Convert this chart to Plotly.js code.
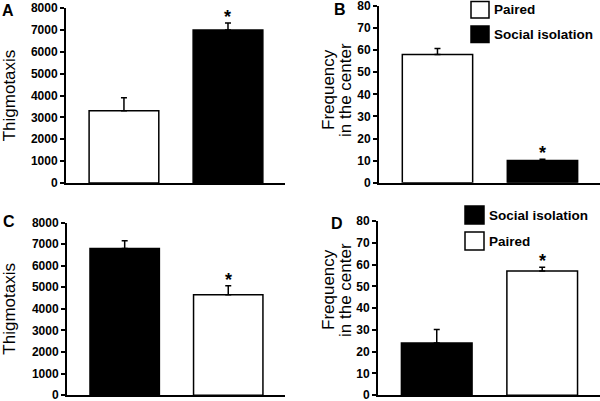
<!DOCTYPE html>
<html>
<head>
<meta charset="utf-8">
<script src="https://cdn.plot.ly/plotly-3.0.1.min.js"></script>
<style>html,body{margin:0;padding:0;background:#fff;}#chart{width:600px;height:401px;}</style>
</head>
<body>
<div id="chart"></div>
<script>
// ---- data ----
const groupsAB = ["Paired", "Social isolation"];
const groupsCD = ["Social isolation", "Paired"];
const thigmoA = [3300, 7000];
const thigmoAErr = [600, 320];
const freqB = [58, 10];
const freqBErr = [2.8, 0.6];
const thigmoC = [6800, 4650];
const thigmoCErr = [350, 420];
const freqD = [24, 57];
const freqDErr = [6.2, 1.8];
const sigA = ["", "*"];
const sigB = ["", "*"];
const sigC = ["", "*"];
const sigD = ["", "*"];
const thigmoTicks = [0, 1000, 2000, 3000, 4000, 5000, 6000, 7000, 8000];
const freqTicks = [0, 10, 20, 30, 40, 50, 60, 70, 80];
const thigmoTitle = "Thigmotaxis";
const freqTitle = ["Frequency", "in the center"];
const panelLabels = ["A", "B", "C", "D"];

// ---- styling ----
const fillOf = {"Paired": "#ffffff", "Social isolation": "#000000"};
const W = 600, H = 401;
const px = x => x / W;
const py = y => 1 - y / H;
const FONT = "Liberation Sans, Arial, sans-serif";

function barTrace(groups, vals, errs, xa, ya) {
  return {
    type: "bar", x: groups, y: vals, xaxis: xa, yaxis: ya, width: 0.67,
    marker: {color: groups.map(g => fillOf[g]), line: {color: "#000", width: 1.5}},
    error_y: {type: "data", symmetric: false, array: errs, arrayminus: errs.map(() => 0),
              color: "#000", thickness: 1.5, width: 3},
    showlegend: false, hoverinfo: "x+y"
  };
}

const data = [
  barTrace(groupsAB, thigmoA, thigmoAErr, "x", "y"),
  barTrace(groupsAB, freqB, freqBErr, "x2", "y2"),
  barTrace(groupsCD, thigmoC, thigmoCErr, "x3", "y3"),
  barTrace(groupsCD, freqD, freqDErr, "x4", "y4")
];

function xax(domain, anchor) {
  return {domain: domain, anchor: anchor, type: "category", range: [-0.557, 1.548],
          showline: true, linecolor: "#000", linewidth: 2, showticklabels: false,
          ticks: "", showgrid: false, zeroline: false, fixedrange: true};
}
function yax(domain, anchor, ticks, title) {
  const ax = {domain: domain, anchor: anchor, range: [0, ticks[ticks.length - 1]],
          tickmode: "array", tickvals: ticks, ticktext: ticks.map(String),
          ticklabeloverflow: "allow",
          showline: true, linecolor: "#000", linewidth: 2,
          ticks: "outside", ticklen: 4, tickwidth: 2, tickcolor: "#000",
          tickfont: {family: FONT, size: 12, color: "#000", weight: "bold"},
          showgrid: false, zeroline: false, fixedrange: true};
  if (title) ax.title = {text: title, font: {family: FONT, size: 17, color: "#000"}, standoff: 14};
  return ax;
}

const annotations = [];
function stars(groups, vals, errs, sig, xa, ya) {
  groups.forEach((g, i) => {
    if (sig[i]) annotations.push({x: g, y: vals[i] + errs[i], xref: xa, yref: ya,
      text: "<b>" + sig[i] + "</b>", showarrow: false, yanchor: "bottom", yshift: -6,
      font: {family: FONT, size: 18, color: "#000"}});
  });
}
stars(groupsAB, thigmoA, thigmoAErr, sigA, "x", "y");
stars(groupsAB, freqB, freqBErr, sigB, "x2", "y2");
stars(groupsCD, thigmoC, thigmoCErr, sigC, "x3", "y3");
stars(groupsCD, freqD, freqDErr, sigD, "x4", "y4");

// two-line titles for the frequency panels
function freqTitleAnn(yc) {
  [328, 345].forEach((xc, i) => annotations.push({
    x: px(xc), y: py(yc), xref: "paper", yref: "paper", text: freqTitle[i],
    textangle: -90, showarrow: false, xanchor: "center", yanchor: "middle",
    font: {family: FONT, size: 17, color: "#000"}}));
}
freqTitleAnn(90);
freqTitleAnn(290);

// panel letters
const letterPos = [[8, 11], [340, 9], [9, 221], [337, 224]];
panelLabels.forEach((t, i) => annotations.push({
  x: px(letterPos[i][0]), y: py(letterPos[i][1]), xref: "paper", yref: "paper",
  text: "<b>" + t + "</b>", showarrow: false, xanchor: "center", yanchor: "middle",
  font: {family: FONT, size: 16, color: "#000"}}));

// legends (keys drawn as boxes)
const shapes = [];
function legend(groups, x0, ys, boxW, boxH) {
  groups.forEach((g, i) => {
    shapes.push({type: "rect", xref: "paper", yref: "paper",
      x0: px(x0), x1: px(x0 + boxW), y0: py(ys[i] + boxH), y1: py(ys[i]),
      fillcolor: fillOf[g], line: {color: "#000", width: 1.5}});
    annotations.push({x: px(x0 + boxW + 3), y: py(ys[i] + boxH / 2), xref: "paper", yref: "paper",
      text: "<b>" + g + "</b>", showarrow: false, xanchor: "left", yanchor: "middle",
      font: {family: FONT, size: 13.5, color: "#000"}});
  });
}
legend(groupsAB, 471, [1.5, 26], 18, 16.5);
legend(groupsCD, 465, [206, 232], 19, 18);

const layout = {
  width: W, height: H, margin: {l: 0, r: 0, t: 0, b: 0},
  paper_bgcolor: "#fff", plot_bgcolor: "rgba(0,0,0,0)",
  font: {family: FONT, color: "#000"},
  xaxis: xax([px(66), px(285)], "y"),
  yaxis: yax([py(183), py(8)], "x", thigmoTicks, thigmoTitle),
  xaxis2: xax([px(379), px(600)], "y2"),
  yaxis2: yax([py(182.7), py(6)], "x2", freqTicks, null),
  xaxis3: xax([px(67), px(285)], "y3"),
  yaxis3: yax([py(395.2), py(222.5)], "x3", thigmoTicks, thigmoTitle),
  xaxis4: xax([px(378), px(600)], "y4"),
  yaxis4: yax([py(395.2), py(221)], "x4", freqTicks, null),
  annotations: annotations, shapes: shapes, showlegend: false
};

Plotly.newPlot("chart", data, layout, {staticPlot: true, displayModeBar: false});
</script>
</body>
</html>
